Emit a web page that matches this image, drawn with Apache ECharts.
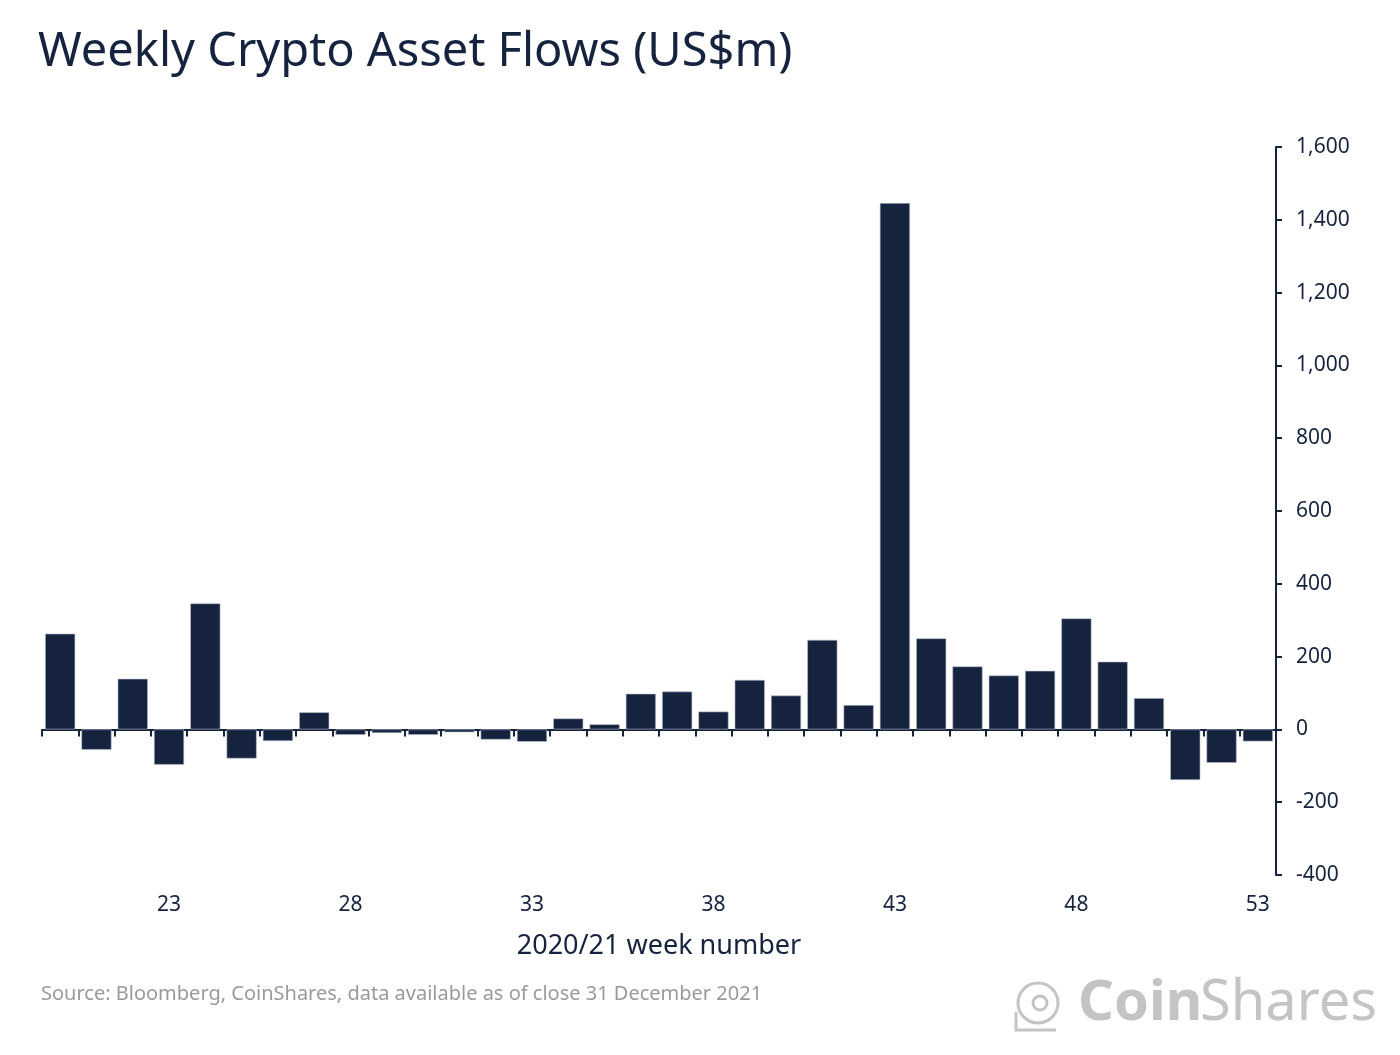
<!DOCTYPE html>
<html>
<head>
<meta charset="utf-8">
<script src="https://cdn.jsdelivr.net/npm/echarts@6/dist/echarts.min.js"></script>
<style>
html,body{margin:0;padding:0;background:#fff;}
#chart{width:1400px;height:1055px;}
</style>
</head>
<body>
<div id="chart"></div>
<script>
const weeks = ['20','21','22','23','24','25','26','27','28','29','30','31','32','33','34','35','36','37','38','39','40','41','42','43','44','45','46','47','48','49','50','51','52','53'];
const flows = [263,-56,139,-97,346,-80,-32,47,-15,-10,-15,-8,-28,-34,30,14,98,104,49,136,93,246,67,1446,250,173,148,161,305,186,86,-139,-92,-33];
const yTicks = [-400,1600,200];

const navy = '#15233f';
const chart = echarts.init(document.getElementById('chart'));
chart.setOption({
  animation:false,
  backgroundColor:'#fff',
  textStyle:{fontFamily:'Noto Sans'},
  title:{
    text:'Weekly Crypto Asset Flows (US$m)',
    left:33, top:24,
    textStyle:{fontFamily:'Noto Sans', fontSize:47, fontWeight:'normal', color:navy}
  },
  grid:{left:42, right:124, top:147, bottom:180},
  xAxis:[{
    type:'category', data:weeks, position:'bottom',
    axisLine:{show:false, onZero:false}, axisTick:{show:false},
    axisLabel:{color:navy, fontSize:21, margin:20,
      interval:function(i){return (i-3)%5===0;}},
    name:'2020/21 week number', nameLocation:'middle', nameGap:58,
    nameTextStyle:{color:navy, fontSize:27}
  },{
    type:'category', data:weeks, position:'bottom',
    axisLine:{show:true, onZero:true, lineStyle:{color:navy, width:2}},
    axisTick:{show:true, length:7, lineStyle:{color:navy, width:2}},
    axisLabel:{show:false}
  }],
  yAxis:{
    type:'value', position:'right', min:yTicks[0], max:yTicks[1], interval:yTicks[2],
    axisLine:{show:true, lineStyle:{color:navy, width:2}},
    axisTick:{show:true, length:6, lineStyle:{color:navy, width:2}},
    splitLine:{show:false},
    axisLabel:{color:navy, fontSize:21, margin:20,
      formatter:function(v){return v.toLocaleString('en-US');}}
  },
  series:[{
    type:'bar', data:flows, xAxisIndex:0, barCategoryGap:'17%',
    itemStyle:{color:navy, borderColor:'#b8bfcc', borderWidth:0.6}
  }],
  graphic:[
    {type:'text', left:41, top:984, style:{text:'Source: Bloomberg, CoinShares, data available as of close 31 December 2021', fill:'#9a9a9a', font:'20px "Noto Sans"'}},
    {type:'text', left:1078, top:976, style:{text:'Coin', fill:'#c4c4c4', font:'bold 56px "Noto Sans"'}},
    {type:'text', left:1200, top:976, style:{text:'Shares', fill:'#c4c4c4', font:'56px "Noto Sans"'}},
    {type:'circle', shape:{cx:1038, cy:1003, r:20}, style:{fill:'none', stroke:'#c4c4c4', lineWidth:3}},
    {type:'circle', shape:{cx:1040, cy:1003, r:7}, style:{fill:'none', stroke:'#c4c4c4', lineWidth:3}},
    {type:'polyline', shape:{points:[[1016,1012],[1016,1030],[1056,1030]]}, style:{fill:'none', stroke:'#c4c4c4', lineWidth:3}}
  ]
});
</script>
</body>
</html>
